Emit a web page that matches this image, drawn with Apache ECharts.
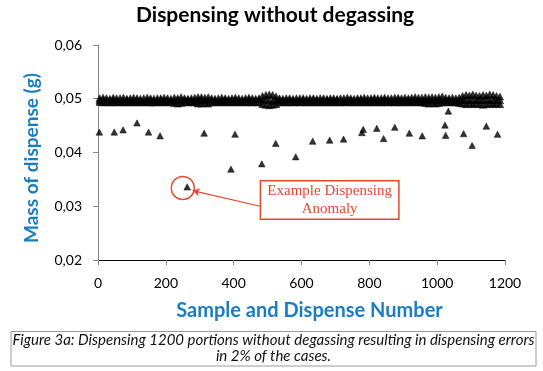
<!DOCTYPE html>
<html>
<head>
<meta charset="utf-8">
<script src="https://cdn.jsdelivr.net/npm/echarts@6.0.0/dist/echarts.min.js"></script>
<style>html,body{margin:0;padding:0;background:#fff;}#chart{width:543px;height:371px;}</style>
</head>
<body>
<div id="chart"></div>
<script>
// ---------- data ----------
const chartTitle = 'Dispensing without degassing';
const xAxisName = 'Sample and Dispense Number';
const yAxisName = 'Mass of dispense (g)';
const captionLines = ['Figure 3a: Dispensing 1200 portions without degassing resulting in dispensing errors', 'in 2% of the cases.'];
const annotationText = 'Example Dispensing\nAnomaly';

// dense band of normal dispenses (upper, middle and lower rows)
const bandX = [5,15,25,35,45,55,65,75,85,95,105,115,125,135,145,155,165,175,185,195,
205,215,225,235,245,255,265,275,285,295,305,315,325,335,345,355,365,375,385,395,
405,415,425,435,445,455,465,475,485,495,505,515,525,535,545,555,565,575,585,595,
605,615,625,635,645,655,665,675,685,695,705,715,725,735,745,755,765,775,785,795,
805,815,825,835,845,855,865,875,885,895,905,915,925,935,945,955,965,975,985,995,
1005,1015,1025,1035,1045,1055,1065,1075,1085,1095,1105,1115,1125,1135,1145,1155,1165,1175,1185];
const bandUpper = [
0.0501,0.0502,0.0501,0.0500,0.0502,0.0501,0.0501,0.0502,0.0500,0.0501,
0.0502,0.0501,0.0500,0.0501,0.0502,0.0501,0.0500,0.0501,0.0501,0.0502,
0.0501,0.0500,0.0502,0.0501,0.0503,0.0501,0.0500,0.0501,0.0502,0.0503,
0.0503,0.0502,0.0503,0.0501,0.0500,0.0501,0.0502,0.0501,0.0500,0.0501,
0.0502,0.0501,0.0500,0.0501,0.0502,0.0501,0.0500,0.0501,0.0505,0.0507,
0.0508,0.0507,0.0504,0.0501,0.0500,0.0501,0.0501,0.0500,0.0501,0.0501,
0.0501,0.0500,0.0501,0.0501,0.0500,0.0501,0.0501,0.0500,0.0501,0.0501,
0.0500,0.0501,0.0501,0.0502,0.0501,0.0500,0.0501,0.0501,0.0502,0.0501,
0.0501,0.0502,0.0501,0.0501,0.0502,0.0501,0.0501,0.0502,0.0502,0.0501,
0.0502,0.0501,0.0502,0.0503,0.0502,0.0502,0.0503,0.0502,0.0503,0.0502,
0.0503,0.0504,0.0502,0.0501,0.0502,0.0501,0.0502,0.0505,0.0507,0.0506,
0.0508,0.0506,0.0505,0.0507,0.0506,0.0508,0.0507,0.0505,0.0504];
const bandMiddle = [
0.0497,0.0498,0.0497,0.0497,0.0498,0.0497,0.0496,0.0497,0.0498,0.0497,
0.0497,0.0498,0.0497,0.0496,0.0497,0.0498,0.0497,0.0497,0.0498,0.0497,
0.0497,0.0496,0.0497,0.0498,0.0497,0.0497,0.0498,0.0497,0.0496,0.0497,
0.0498,0.0497,0.0497,0.0498,0.0497,0.0496,0.0497,0.0498,0.0497,0.0497,
0.0498,0.0497,0.0496,0.0497,0.0498,0.0497,0.0497,0.0498,0.0497,0.0499,
0.0497,0.0496,0.0497,0.0498,0.0497,0.0497,0.0498,0.0497,0.0496,0.0497,
0.0498,0.0497,0.0497,0.0498,0.0497,0.0496,0.0497,0.0498,0.0497,0.0497,
0.0498,0.0497,0.0496,0.0497,0.0498,0.0497,0.0497,0.0498,0.0497,0.0496,
0.0497,0.0498,0.0497,0.0497,0.0498,0.0497,0.0496,0.0497,0.0498,0.0497,
0.0497,0.0498,0.0497,0.0498,0.0497,0.0496,0.0497,0.0498,0.0497,0.0497,
0.0498,0.0497,0.0497,0.0498,0.0497,0.0496,0.0497,0.0498,0.0498,0.0497,
0.0498,0.0497,0.0498,0.0497,0.0498,0.0497,0.0498,0.0497,0.0497];
const bandLower = [
0.0494,0.0493,0.0494,0.0493,0.0494,0.0493,0.0494,0.0493,0.0494,0.0493,
0.0494,0.0493,0.0494,0.0493,0.0494,0.0493,0.0493,0.0494,0.0493,0.0494,
0.0493,0.0494,0.0492,0.0491,0.0492,0.0494,0.0493,0.0494,0.0493,0.0491,
0.0491,0.0492,0.0491,0.0493,0.0494,0.0493,0.0494,0.0493,0.0494,0.0493,
0.0494,0.0493,0.0494,0.0493,0.0494,0.0493,0.0494,0.0493,0.0490,0.0489,
0.0488,0.0489,0.0490,0.0493,0.0494,0.0493,0.0494,0.0493,0.0494,0.0493,
0.0494,0.0493,0.0494,0.0493,0.0494,0.0493,0.0494,0.0493,0.0494,0.0493,
0.0494,0.0493,0.0494,0.0493,0.0494,0.0493,0.0494,0.0493,0.0494,0.0493,
0.0494,0.0493,0.0494,0.0493,0.0494,0.0493,0.0494,0.0493,0.0494,0.0493,
0.0494,0.0493,0.0494,0.0493,0.0494,0.0493,0.0492,0.0491,0.0492,0.0491,
0.0492,0.0493,0.0494,0.0493,0.0494,0.0493,0.0492,0.0491,0.0490,0.0491,
0.0490,0.0491,0.0490,0.0489,0.0490,0.0491,0.0490,0.0491,0.0490];

// dispensing errors (outliers)
const errX = [4,48,74,115,149,183,263,313,392,404,483,524,583,633,683,724,778,782,822,842,875,918,956,1023,1025,1033,1078,1103,1145,1178];
const errY = [0.0438,0.0438,0.0442,0.0455,0.0438,0.0431,0.0336,0.0436,0.0369,0.0434,0.0379,0.0417,0.0392,0.0421,0.0423,0.0425,0.0437,0.0443,0.0445,0.0426,0.0447,0.0436,0.0431,0.0451,0.0432,0.0477,0.0435,0.0413,0.0449,0.0434];

// annotation anchors (data coordinates)
const annoCircle = [250, 0.0334];
const annoArrowFrom = [478, 0.0300];
const annoArrowTo = [279, 0.0329];
const annoBox = [683, 0.03117];

// ---------- chart ----------
const red = '#e8472b';
const blue = '#1a7dc4';
const pairs = (xs, ys) => xs.map((x, i) => [x, ys[i]]);
const tri = { type: 'scatter', symbol: 'triangle', symbolSize: [6.6, 6.2],
  itemStyle: { color: '#000', borderColor: '#000', borderWidth: 0.6 }, silent: true };
const bandTri = Object.assign({}, tri, { symbolSize: [7.4, 7] });

const chart = echarts.init(document.getElementById('chart'), null, { renderer: 'canvas' });
chart.setOption({
  animation: false,
  backgroundColor: '#fff',
  title: {
    text: chartTitle, left: 131, top: 0,
    textStyle: { fontFamily: 'Lato', fontWeight: 'bold', fontSize: 21, color: '#000' }
  },
  grid: { left: 98, right: 38, top: 45, bottom: 111, containLabel: false },
  xAxis: {
    type: 'value', min: 0, max: 1200, interval: 200,
    name: xAxisName, nameLocation: 'middle', nameGap: 41,
    nameTextStyle: { fontFamily: 'Lato', fontWeight: 'bold', fontSize: 20, color: blue, padding: [0, 0, 0, 16] },
    axisLine: { show: true, onZero: false, lineStyle: { color: '#000', width: 1 } },
    axisTick: { show: true, length: 5, lineStyle: { color: '#888' } },
    axisLabel: { margin: 16, fontFamily: 'Lato', fontSize: 14, color: '#000', formatter: v => String(v) },
    splitLine: { show: false }
  },
  yAxis: {
    type: 'value', min: 0.02, max: 0.06, interval: 0.01,
    axisLine: { show: true, lineStyle: { color: '#868686', width: 1 } },
    axisTick: { show: true, length: 5, lineStyle: { color: '#868686' } },
    axisLabel: { margin: 16, fontFamily: 'Lato', fontSize: 14, color: '#000',
      formatter: v => v.toFixed(2).replace('.', ',') },
    splitLine: { show: false }
  },
  series: [
    Object.assign({}, bandTri, { name: 'band-lower', data: pairs(bandX, bandLower) }),
    Object.assign({}, bandTri, { name: 'band-middle', data: pairs(bandX, bandMiddle) }),
    Object.assign({}, bandTri, { name: 'band-upper', data: pairs(bandX, bandUpper) }),
    Object.assign({}, tri, {
      name: 'errors', data: pairs(errX, errY),
      markLine: {
        silent: true, animation: false,
        symbol: ['none', 'arrow'], symbolSize: [6, 7],
        lineStyle: { color: red, width: 1.2, type: 'solid' },
        label: { show: false },
        data: [[{ coord: annoArrowFrom }, { coord: annoArrowTo }]]
      },
      markPoint: {
        silent: true, animation: false,
        data: [
          { coord: annoCircle, symbol: 'circle', symbolSize: 23,
            itemStyle: { color: 'rgba(0,0,0,0)', borderColor: red, borderWidth: 1.5 },
            label: { show: false } },
          { coord: annoBox, symbol: 'circle', symbolSize: 1,
            itemStyle: { color: 'rgba(0,0,0,0)', borderWidth: 0 },
            label: { show: true, position: 'inside', formatter: annotationText,
              color: red, fontFamily: 'Liberation Serif', fontSize: 15, lineHeight: 17.5,
              align: 'center', verticalAlign: 'middle',
              width: 129, padding: [1, 4, 1, 4],
              backgroundColor: '#fff', borderColor: red, borderWidth: 1.5 } }
        ]
      }
    })
  ],
  graphic: [
    { type: 'text', x: 31.5, y: 158, rotation: Math.PI / 2, style: {
      text: yAxisName, align: 'center', verticalAlign: 'middle',
      fontFamily: 'Lato', fontWeight: 'bold', fontSize: 19, fill: blue } },
    { type: 'rect', shape: { x: 11, y: 331.5, width: 525, height: 34.5 },
      style: { fill: '#fff', stroke: '#9a9a9a', lineWidth: 1 } },
    { type: 'text', x: 273.5, y: 332, style: {
      text: captionLines.join('\n'), align: 'center', verticalAlign: 'top',
      fontFamily: 'Lato', fontStyle: 'italic', fontSize: 15, lineHeight: 16, fill: '#111' } }
  ]
});
</script>
</body>
</html>
